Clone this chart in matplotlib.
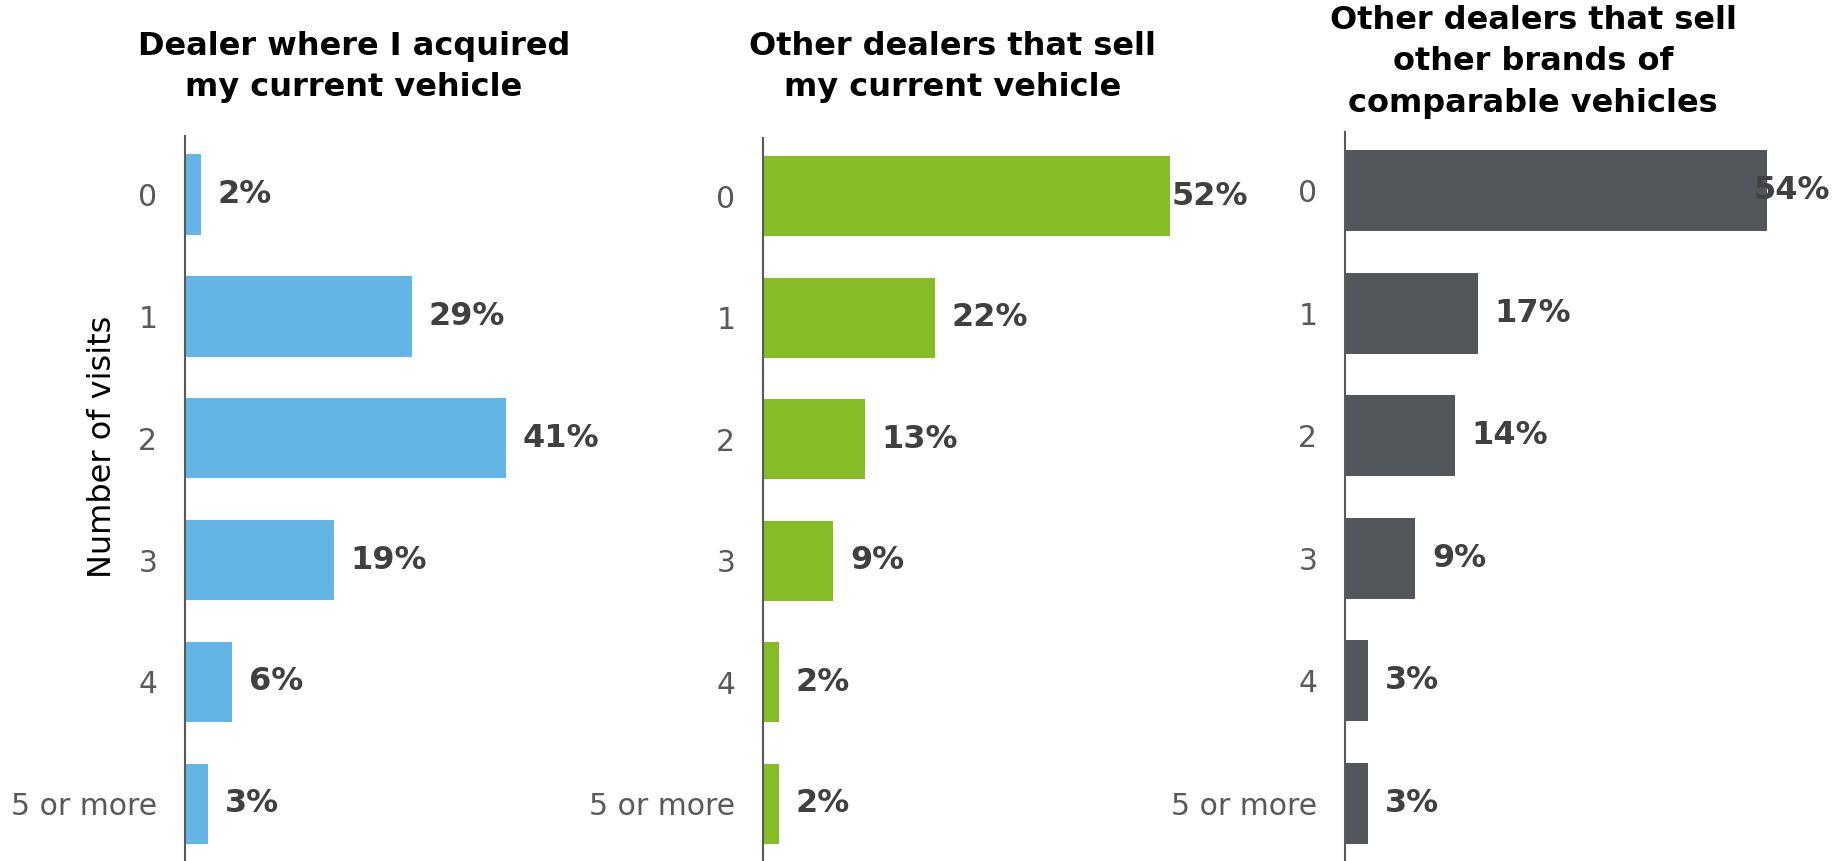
import matplotlib.pyplot as plt

categories = ['0', '1', '2', '3', '4', '5 or more']
acquired = [2, 29, 41, 19, 6, 3]
same_brand = [52, 22, 13, 9, 2, 2]
other_brands = [54, 17, 14, 9, 3, 3]

titles = ['Dealer where I acquired\nmy current vehicle',
          'Other dealers that sell\nmy current vehicle',
          'Other dealers that sell\nother brands of\ncomparable vehicles']
colors = ['#62B5E5', '#86BC25', '#53565A']
series = [acquired, same_brand, other_brands]

W, H = 1849, 861
fig = plt.figure(figsize=(W / 100, H / 100), dpi=100)

# axes placement in pixels: left, top of spine
lefts = [185, 763, 1345]
tops = [136, 138, 132]
width = 485
xmax = 62
title_pos = [(354, 67), (953, 67), (1533, 62)]

for i in range(3):
    ax = fig.add_axes([lefts[i] / W, 0, width / W, 1 - tops[i] / H])
    y = range(len(categories))
    ax.barh(y, series[i], height=0.66, color=colors[i])
    ax.set_ylim(5.47, -0.48)
    ax.set_xlim(0, xmax)
    ax.set_yticks(list(y))
    ax.set_yticklabels(categories, fontsize=21.5, color='#595959')
    ax.tick_params(axis='y', length=0, pad=20)
    ax.set_xticks([])
    for s in ['top', 'right', 'bottom']:
        ax.spines[s].set_visible(False)
    ax.spines['left'].set_color('#595959')
    ax.spines['left'].set_linewidth(1.5)
    for j, v in enumerate(series[i]):
        if v > 45:
            ax.text(xmax, j, f'{v}%', ha='right', va='center', fontsize=23,
                    fontweight='bold', color='#404040')
        else:
            ax.annotate(f'{v}%', (v, j), xytext=(12, 0), textcoords='offset points',
                        ha='left', va='center', fontsize=23,
                        fontweight='bold', color='#404040')
    tx, ty = title_pos[i]
    fig.text(tx / W, 1 - ty / H, titles[i], ha='center', va='center',
             fontsize=23, fontweight='bold', color='black', linespacing=1.42)

fig.text(103 / W, 1 - 447 / H, 'Number of visits', rotation=90,
         ha='center', va='center', fontsize=23, color='black')

fig.savefig('out.png', dpi=100)
